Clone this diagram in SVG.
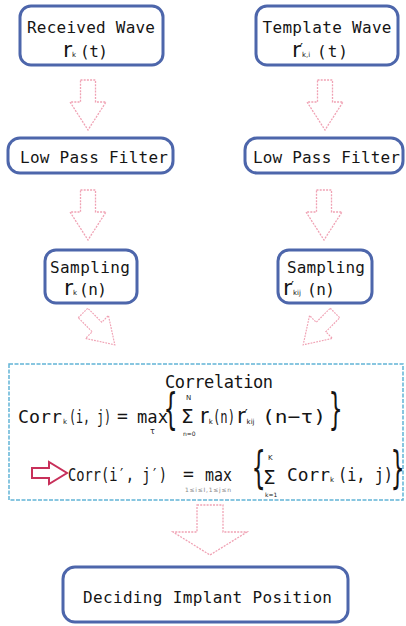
<svg xmlns="http://www.w3.org/2000/svg" width="406" height="626" viewBox="0 0 406 626">
<style>
.box{fill:#fff;stroke:#4d66ab;stroke-width:3}
.cbox{fill:#fff;stroke:#62b4d6;stroke-width:1.5;stroke-dasharray:4 1.5}
.lbl{font-family:"DejaVu Sans Mono","Liberation Mono",monospace;font-size:16px;fill:#151515}
.fx{font-family:"DejaVu Sans Mono","Liberation Mono",monospace;font-size:18px;fill:#151515}
.sym{font-family:"DejaVu Sans","Liberation Sans",sans-serif;font-size:20px;fill:#151515}
.big{font-family:"DejaVu Sans","Liberation Sans",sans-serif;font-size:22px;fill:#151515}
.sub{font-family:"DejaVu Sans","Liberation Sans",sans-serif;font-size:7px;fill:#222}
.tiny{font-family:"DejaVu Sans","Liberation Sans",sans-serif;font-size:6px;fill:#888}
.arr{fill:#fff;stroke:#f0a2b4;stroke-width:1.3;stroke-dasharray:2 1.2}
.red{fill:#fff;stroke:#c8305a;stroke-width:2;stroke-linejoin:miter}
</style>
<defs>
<path id="dn" d="M-7.5,0 H7.5 V22 H18 L0,50 L-18,22 H-7.5 Z"/>
<path id="dnBig" d="M-13,0 H13 V27 H37 L0,50 L-37,27 H-13 Z"/>
</defs>
<rect width="406" height="626" fill="#fff"/>

<g id="connectors">
<use href="#dn" class="arr" transform="translate(88,80)"/>
<use href="#dn" class="arr" transform="translate(325,80)"/>
<use href="#dn" class="arr" transform="translate(88,190)"/>
<use href="#dn" class="arr" transform="translate(324,190)"/>
<use href="#dn" class="arr" transform="translate(83,313) rotate(-45) scale(0.9)"/>
<use href="#dn" class="arr" transform="translate(335,313) rotate(45) scale(0.9)"/>
<use href="#dnBig" class="arr" transform="translate(210,505)"/>
</g>

<g id="received">
<rect class="box" x="20" y="6" width="143" height="59" rx="11"/>
<text class="lbl" x="91" y="33" text-anchor="middle" textLength="128">Received Wave</text>
<text class="big" x="63" y="57">r<tspan style="font-size:7px">k</tspan></text>
<text class="lbl" x="80" y="57" textLength="28">(t)</text>
</g>

<g id="template">
<rect class="box" x="256" y="6" width="142" height="59" rx="11"/>
<text class="lbl" x="327" y="33" text-anchor="middle" textLength="129">Template Wave</text>
<text class="big" x="292" y="57">r<tspan style="font-size:13px" dx="-1" dy="-5">′</tspan><tspan style="font-size:7px" dx="-1" dy="5">k,i</tspan></text>
<text class="lbl" x="317" y="57" textLength="31">(t)</text>
</g>

<g id="lpf-left">
<rect class="box" x="8" y="138" width="165" height="35" rx="12"/>
<text class="lbl" x="94" y="163" text-anchor="middle" textLength="148">Low Pass Filter</text>
</g>

<g id="lpf-right">
<rect class="box" x="245" y="138" width="158" height="35" rx="12"/>
<text class="lbl" x="326.5" y="163" text-anchor="middle" textLength="147">Low Pass Filter</text>
</g>

<g id="sampling-left">
<rect class="box" x="45" y="250" width="92" height="53" rx="11"/>
<text class="lbl" x="90" y="273" text-anchor="middle" textLength="80">Sampling</text>
<text class="big" x="64" y="295">r<tspan style="font-size:7px">k</tspan></text>
<text class="lbl" x="79" y="295" textLength="28">(n)</text>
</g>

<g id="sampling-right">
<rect class="box" x="278" y="250" width="94" height="53" rx="11"/>
<text class="lbl" x="326" y="273" text-anchor="middle" textLength="78">Sampling</text>
<text class="big" x="283" y="295">r<tspan style="font-size:13px" dx="-1" dy="-5">′</tspan><tspan style="font-size:7px" dx="-1" dy="5">kij</tspan></text>
<text class="lbl" x="307" y="295" textLength="28">(n)</text>
</g>

<g id="correlation">
<rect class="cbox" x="9" y="364" width="394" height="136"/>
<text class="lbl" x="219" y="388" text-anchor="middle" style="font-size:17px" textLength="108">Correlation</text>
<!-- line 1 -->
<text class="fx" x="18" y="423" textLength="44" lengthAdjust="spacingAndGlyphs">Corr</text>
<text class="sub" x="63" y="424">k</text>
<text class="fx" x="69" y="423" textLength="42" lengthAdjust="spacingAndGlyphs">(i, j)</text>
<text class="fx" x="117" y="422">=</text>
<text class="fx" x="137" y="423" textLength="31" lengthAdjust="spacingAndGlyphs">max</text>
<text class="sub" x="150" y="434" style="font-size:8px">τ</text>
<text class="fx" transform="translate(164,424) scale(1,1.9)" style="font-size:22px">{</text>
<text class="sub" x="186" y="400">N</text>
<text class="sym" x="181" y="423">Σ</text>
<text class="sub" x="183" y="436" style="font-size:6px">n=0</text>
<text class="big" x="200" y="423" style="font-size:21px">r<tspan style="font-size:7px" dy="1">k</tspan></text>
<text class="fx" x="213" y="423" textLength="22" lengthAdjust="spacingAndGlyphs">(n)</text>
<text class="big" x="237" y="423" style="font-size:21px">r<tspan style="font-size:13px" dx="-1" dy="-5">′</tspan><tspan style="font-size:7px" dx="-1" dy="6">kij</tspan></text>
<text class="fx" x="262" y="423" textLength="64" lengthAdjust="spacingAndGlyphs">(n−τ)</text>
<text class="fx" transform="translate(329,424) scale(1,1.9)" style="font-size:22px">}</text>
<!-- line 2 -->
<path class="red" d="M32,468 H49 V462 L67,473 L49,484 V478 H32 Z"/>
<text class="fx" x="68" y="481" textLength="99" lengthAdjust="spacingAndGlyphs">Corr(i′, j′)</text>
<text class="fx" x="183" y="480">=</text>
<text class="fx" x="205" y="481" textLength="27" lengthAdjust="spacingAndGlyphs">max</text>
<text class="tiny" x="185" y="492" textLength="46">1≤i≤I,1≤j≤n</text>
<text class="fx" transform="translate(252,483) scale(1,2)" style="font-size:22px">{</text>
<text class="sub" x="268" y="460">K</text>
<text class="sym" x="263" y="484">Σ</text>
<text class="sub" x="265" y="497" style="font-size:6px">k=1</text>
<text class="fx" x="287" y="481" textLength="43" lengthAdjust="spacingAndGlyphs">Corr</text>
<text class="sub" x="330" y="482">k</text>
<text class="fx" x="338" y="481" textLength="55" lengthAdjust="spacingAndGlyphs">(i, j)</text>
<text class="fx" transform="translate(391,483) scale(1,2)" style="font-size:22px">}</text>
</g>

<g id="deciding">
<rect class="box" x="63" y="567" width="285" height="55" rx="12"/>
<text class="lbl" x="207.5" y="603" text-anchor="middle" textLength="249">Deciding Implant Position</text>
</g>
</svg>
